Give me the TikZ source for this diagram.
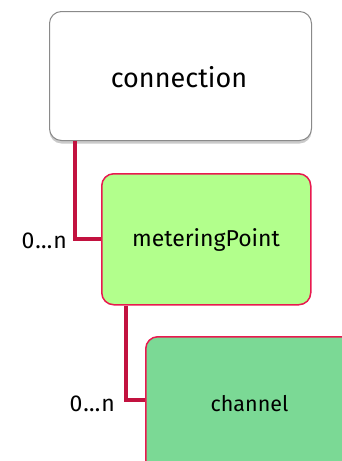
\documentclass[tikz,border=0pt]{standalone}
\usepackage{fontspec}
\setmainfont{Fira Sans}
\usetikzlibrary{shadows}
\definecolor{linkred}{HTML}{C2123F}
\definecolor{boxred}{HTML}{E8194F}
\definecolor{greenA}{HTML}{B2FF8C}
\definecolor{greenB}{HTML}{7BD995}
\definecolor{greyborder}{HTML}{8A8A8A}
\tikzset{
  box/.style={draw=boxred, line width=1.5pt, rounded corners=12pt, inner sep=0pt, anchor=north west},
  link/.style={draw=linkred, line width=4pt},
  mult/.style={font=\fontsize{23}{26}\selectfont, anchor=east, inner sep=0pt}
}
\begin{document}
\begin{tikzpicture}[x=1pt,y=-1pt]
\useasboundingbox (0,0) rectangle (342,461);
\clip (0,0) rectangle (342,461);
% connection
\node[box, draw=greyborder, line width=1pt, fill=white, minimum width=262pt, minimum height=129pt,
  drop shadow={shadow xshift=0pt, shadow yshift=-3pt, opacity=0.35, fill=black!60}] (conn) at (49,11) {};
\node[font=\fontsize{27}{30}\selectfont] (connt) at (179,77) {connection};
% meteringPoint
\node[box, fill=greenA, minimum width=209pt, minimum height=131pt] (mp) at (101,173) {};
\node[font=\fontsize{23}{26}\selectfont] (mpt) at (206,240) {meteringPoint};
% channel
\node[box, fill=greenB, minimum width=230pt, minimum height=160pt] (ch) at (145,336) {};
\node[font=\fontsize{21.5}{24}\selectfont] (cht) at (249.5,404) {channel};
% connectors
\coordinate (c1) at (75,239);
\coordinate (c2) at (126,400);
\draw[link] (conn.south -| c1) -- (c1) -- (c1 -| mp.west);
\draw[link] (mp.south -| c2) -- (c2) -- (c2 -| ch.west);
\node[mult] (m1) at (67,241) {0\kern1pt…\kern1pt n};
\node[mult] (m2) at (115,404) {0\kern1pt…\kern1pt n};
\end{tikzpicture}
\end{document}
